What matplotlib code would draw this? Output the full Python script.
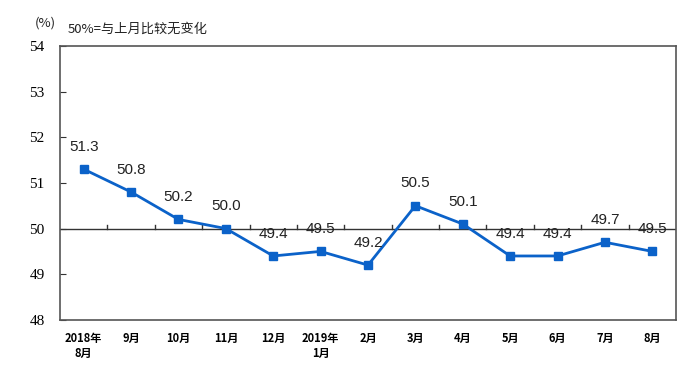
import numpy as np
import matplotlib
matplotlib.use('Agg')
import matplotlib.pyplot as plt

# Data
months = ['2018年\n8月', '9月', '10月', '11月', '12月', '2019年\n1月', '2月',
          '3月', '4月', '5月', '6月', '7月', '8月']
values = [51.3, 50.8, 50.2, 50.0, 49.4, 49.5, 49.2, 50.5, 50.1, 49.4, 49.4, 49.7, 49.5]
y_ticks = [48, 49, 50, 51, 52, 53, 54]

line_color = '#0B62C9'
cjk = ['Noto Sans CJK SC', 'DejaVu Sans']

fig = plt.figure(figsize=(7, 3.85), dpi=100)
ax = fig.add_axes([0.0857, 0.169, 0.880, 0.712])

x = np.arange(len(values))
ax.plot(x, values, color=line_color, linewidth=2, marker='s', markersize=6,
        markerfacecolor=line_color, markeredgecolor=line_color, zorder=3)

# Value labels above each point
for xi, v in zip(x, values):
    ax.annotate(f'{v:.1f}', (xi, v), xytext=(0, 11), textcoords='offset points',
                ha='center', va='bottom', fontsize=11, color='#222222',
                family='Liberation Sans')

# Reference line at 50 with small category ticks
ax.axhline(50, color='#333333', linewidth=1, zorder=2)
for b in np.arange(0.5, len(values) - 1, 1.0):
    ax.plot([b, b], [50, 50.07], color='#333333', linewidth=1, zorder=2)

ax.set_xlim(-0.5, len(values) - 0.5)
ax.set_ylim(48, 54)
ax.set_yticks(y_ticks)
ax.set_yticklabels([str(t) for t in y_ticks], family='Liberation Serif', fontsize=11)
ax.tick_params(axis='y', direction='in', length=4, pad=11, color='#333333')
ax.set_xticks(x)
ax.set_xticklabels(months, family=cjk, fontsize=8, fontweight='bold', linespacing=1.2)
ax.tick_params(axis='x', length=0, pad=9)

for s in ax.spines.values():
    s.set_color('#555555')
    s.set_linewidth(1.2)

fig.text(0.05, 0.94, '(%)', family=cjk, fontsize=9.5, color='#222222', va='center')
fig.text(0.097, 0.925, '50%=与上月比较无变化', family=cjk, fontsize=9.5,
         color='#222222', va='center')

fig.savefig('out.png', dpi=100)
